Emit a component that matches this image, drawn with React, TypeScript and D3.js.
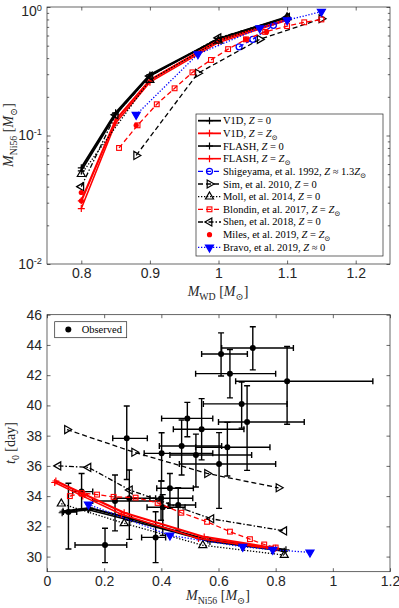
import React, { useEffect, useRef } from "react";
import * as d3 from "d3";

// ---- models: white dwarf mass, Ni56 mass, rise time t0 ----
const v1dZ0Mwd = [0.8, 0.85, 0.9, 1.0, 1.1];
const v1dZ0Ni = [0.056, 0.15, 0.296, 0.563, 0.836];
const v1dZ0T = [33.0, 33.2, 32.5, 31.1, 30.45];

const v1dZsMwd = [0.8, 0.85, 0.9, 1.0, 1.1];
const v1dZsNi = [0.031, 0.132, 0.27, 0.55, 0.8];
const v1dZsT = [35.0, 34.1, 32.9, 31.3, 30.55];

const flashZ0Mwd = [0.8, 0.85, 0.9, 1.0, 1.1];
const flashZ0Ni = [0.053, 0.145, 0.29, 0.57, 0.83];
const flashZ0T = [32.9, 33.1, 32.4, 31.0, 30.35];

const flashZsMwd = [0.8, 0.85, 0.9, 1.0, 1.1];
const flashZsNi = [0.027, 0.125, 0.26, 0.53, 0.79];
const flashZsT = [34.9, 34.0, 32.8, 31.2, 30.5];

const shigeyamaMwd = [1.03, 1.05, 1.08];
const shigeyamaNi = [0.49, 0.56, 0.72];

const simMwd = [0.88, 0.97, 1.06, 1.15];
const simNi = [0.07, 0.305, 0.56, 0.81];
const simT = [38.4, 36.9, 35.5, 34.55];

const mollMwd = [0.8, 0.9, 1.0, 1.1];
const mollNi = [0.05, 0.27, 0.545, 0.83];
const mollT = [33.5, 32.2, 30.75, 30.1];

const blondinMwd = [0.855, 0.882, 0.91, 0.936, 0.962, 0.989, 1.014, 1.04, 1.068, 1.1, 1.125, 1.15];
const blondinNi = [0.08, 0.12, 0.175, 0.233, 0.31, 0.387, 0.47, 0.56, 0.64, 0.71, 0.76, 0.8];
const blondinT = [34.0, 34.2, 34.1, 33.95, 33.9, 33.55, 32.9, 32.3, 31.65, 31.15, 30.8, 30.6];

const shenMwd = [0.8, 0.85, 0.9, 1.0, 1.1];
const shenNi = [0.04, 0.145, 0.29, 0.575, 0.83];
const shenT = [36.0, 35.9, 34.4, 32.5, 31.7];

const milesMwd = [0.8, 0.8, 0.88, 1.04, 1.07];
const milesNi = [0.036, 0.031, 0.12, 0.56, 0.64];

const bravoMwd = [0.88, 0.97, 1.06, 1.1, 1.15];
const bravoNi = [0.145, 0.43, 0.685, 0.79, 0.92];
const bravoT = [33.45, 31.4, 30.65, 30.45, 30.28];

// ---- observed: Ni56 mass (with range) and t0 (with range) ----
const obsNi = [0.72, 0.609, 0.64, 0.84, 0.681, 0.7, 0.541, 0.631, 0.521, 0.602, 0.491, 0.471, 0.401, 0.279, 0.121, 0.075, 0.203, 0.238, 0.288, 0.38, 0.399, 0.43, 0.405, 0.459];
const obsNiLo = [0.611, 0.541, 0.52, 0.66, 0.547, 0.6, 0.442, 0.52, 0.43, 0.463, 0.401, 0.393, 0.34, 0.23, 0.09, 0.057, 0.098, 0.16, 0.24, 0.331, 0.36, 0.384, 0.35, 0.424];
const obsNiHi = [0.862, 0.701, 0.8, 1.14, 0.84, 0.9, 0.689, 0.78, 0.716, 0.8, 0.58, 0.611, 0.58, 0.351, 0.16, 0.104, 0.279, 0.4, 0.38, 0.415, 0.51, 0.512, 0.483, 0.52];
const obsT = [43.8, 43.4, 42.1, 41.6, 40.1, 38.9, 38.42, 37.23, 36.72, 36.12, 39.14, 37.31, 36.83, 37.82, 34.3, 32.95, 30.77, 33.68, 33.86, 31.27, 33.86, 34.52, 33.26, 33.41];
const obsTLo = [42.35, 41.95, 40.5, 38.75, 38.5, 35.7, 36.4, 35.33, 34.6, 33.19, 37.93, 35.4, 35.0, 35.1, 33.1, 30.5, 29.6, 31.7, 31.14, 29.6, 32.4, 33.19, 31.4, 31.76];
const obsTHi = [45.2, 44.8, 43.7, 43.9, 41.55, 41.3, 40.45, 38.88, 38.1, 38.2, 40.2, 39.03, 38.19, 39.96, 35.5, 34.85, 31.87, 35.4, 35.73, 32.97, 35.0, 35.5, 34.1, 34.56];

const topXTicks = [0.8, 0.9, 1, 1.1, 1.2];
const topYTicks = [0.01, 0.1, 1];
const botXTicks = [0, 0.2, 0.4, 0.6, 0.8, 1, 1.2];
const botYTicks = [30, 32, 34, 36, 38, 40, 42, 44, 46];

const BLUE = "#0000ff";
const RED = "#ff0000";
const BLACK = "#000000";
const SERIF = "'Liberation Serif', 'DejaVu Serif', serif";
const SANS = "'Liberation Sans', Arial, sans-serif";

type Series = {
  label: string;
  mwd: number[];
  ni: number[];
  t?: number[];
  color: string;
  dash: string | null;
  width: number;
  marker: string;
  filled?: boolean;
  noLine?: boolean;
};

const series: Series[] = [
  { label: "V1D, *Z* = 0", mwd: v1dZ0Mwd, ni: v1dZ0Ni, t: v1dZ0T, color: BLACK, dash: null, width: 2.2, marker: "+" },
  { label: "V1D, *Z* = *Z*_{⊙}", mwd: v1dZsMwd, ni: v1dZsNi, t: v1dZsT, color: RED, dash: null, width: 2.2, marker: "+" },
  { label: "FLASH, *Z* = 0", mwd: flashZ0Mwd, ni: flashZ0Ni, t: flashZ0T, color: BLACK, dash: null, width: 1.6, marker: "+" },
  { label: "FLASH, *Z* = *Z*_{⊙}", mwd: flashZsMwd, ni: flashZsNi, t: flashZsT, color: RED, dash: null, width: 1.6, marker: "+" },
  { label: "Shigeyama, et al. 1992, *Z* ≈ 1.3*Z*_{⊙}", mwd: shigeyamaMwd, ni: shigeyamaNi, color: BLUE, dash: "5,3", width: 1.3, marker: "o" },
  { label: "Sim, et al. 2010, *Z* = 0", mwd: simMwd, ni: simNi, t: simT, color: BLACK, dash: "5,3", width: 1.3, marker: ">" },
  { label: "Moll, et al. 2014, *Z* = 0", mwd: mollMwd, ni: mollNi, t: mollT, color: BLACK, dash: "1.3,1.7", width: 1.3, marker: "^" },
  { label: "Blondin, et al. 2017, *Z* = *Z*_{⊙}", mwd: blondinMwd, ni: blondinNi, t: blondinT, color: RED, dash: "5,3", width: 1.3, marker: "s" },
  { label: "Shen, et al. 2018, *Z* = 0", mwd: shenMwd, ni: shenNi, t: shenT, color: BLACK, dash: "5,2,1.5,2", width: 1.3, marker: "<" },
  { label: "Miles, et al. 2019, *Z* = *Z*_{⊙}", mwd: milesMwd, ni: milesNi, color: RED, dash: null, width: 1.3, marker: ".", noLine: true },
  { label: "Bravo, et al. 2019, *Z* ≈ 0", mwd: bravoMwd, ni: bravoNi, t: bravoT, color: BLUE, dash: "1.3,1.7", width: 1.3, marker: "v", filled: true },
];

// tiny markup: *x* italic, _{x} subscript, ^{x} superscript
function richText(sel: any, str: string, size: number) {
  const parts = str.split(/(\*[^*]+\*|_\{[^}]*\}|\^\{[^}]*\})/).filter((s) => s);
  let shift = 0;
  parts.forEach((p) => {
    const ts = sel.append("tspan");
    let dy = 0;
    if (p.startsWith("_{")) {
      dy = size * 0.28 - shift;
      shift = size * 0.28;
      ts.attr("font-size", size * 0.7).text(p.slice(2, -1));
    } else if (p.startsWith("^{")) {
      dy = -size * 0.36 - shift;
      shift = -size * 0.36;
      ts.attr("font-size", size * 0.66).text(p.slice(2, -1));
    } else {
      dy = -shift;
      shift = 0;
      if (p.startsWith("*")) ts.attr("font-style", "italic").text(p.slice(1, -1));
      else ts.text(p);
    }
    if (dy) ts.attr("dy", dy);
  });
}

function addMarker(g: any, kind: string, cx: number, cy: number, color: string, filled?: boolean) {
  if (kind === "+") {
    g.append("path")
      .attr("d", `M${cx - 3.5},${cy}H${cx + 3.5}M${cx},${cy - 3.5}V${cy + 3.5}`)
      .attr("stroke", color)
      .attr("stroke-width", 1.2);
  } else if (kind === ".") {
    g.append("circle").attr("cx", cx).attr("cy", cy).attr("r", 2.6).attr("fill", color);
  } else if (kind === "o") {
    g.append("circle").attr("cx", cx).attr("cy", cy).attr("r", 3)
      .attr("fill", "none").attr("stroke", color).attr("stroke-width", 1.3);
  } else if (kind === "s") {
    g.append("rect").attr("x", cx - 2.4).attr("y", cy - 2.4).attr("width", 4.8).attr("height", 4.8)
      .attr("fill", "none").attr("stroke", color).attr("stroke-width", 1.1);
  } else {
    const rot: any = { "^": 0, ">": 90, v: 180, "<": 270 };
    g.append("path")
      .attr("d", d3.symbol().type(d3.symbolTriangle).size(28)())
      .attr("transform", `translate(${cx},${cy}) rotate(${rot[kind]})`)
      .attr("fill", filled ? color : "none")
      .attr("stroke", color)
      .attr("stroke-width", 1.2);
  }
}

function drawFrame(svg: any, x: any, y: any, xTicks: number[], yAxisLeft: any, yAxisRight: any) {
  const [x0, x1] = x.range();
  const [y0, y1] = y.range();
  const g = svg.append("g");

  g.append("g")
    .attr("transform", `translate(0,${y0})`)
    .call(d3.axisBottom(x).tickValues(xTicks).tickSizeInner(-3.5).tickSizeOuter(0).tickPadding(4)
      .tickFormat((d: any) => d3.format("")(d)));
  g.append("g")
    .attr("transform", `translate(0,${y1})`)
    .call(d3.axisTop(x).tickValues(xTicks).tickSizeInner(-3.5).tickSizeOuter(0).tickFormat(() => ""));
  g.append("g").attr("transform", `translate(${x0},0)`).call(yAxisLeft);
  g.append("g").attr("transform", `translate(${x1},0)`).call(yAxisRight);

  // d3 axis sets its own font on each group, override it
  g.selectAll("g").attr("font-family", SANS).attr("font-size", 14);
  g.selectAll(".domain").remove();
  g.selectAll(".tick line").attr("stroke", "#262626").attr("stroke-width", 0.7);
  g.selectAll(".tick text").attr("fill", "#262626");

  g.append("rect")
    .attr("x", x0).attr("y", y1).attr("width", x1 - x0).attr("height", y0 - y1)
    .attr("fill", "none").attr("stroke", "#262626").attr("stroke-width", 0.7);
}

function drawLine(g: any, xs: number[], ys: number[], x: any, y: any, s: Series) {
  const pts = xs.map((v, i) => [x(v), y(ys[i])] as [number, number]);
  if (!s.noLine) {
    g.append("path")
      .attr("d", d3.line()(pts))
      .attr("fill", "none")
      .attr("stroke", s.color)
      .attr("stroke-width", s.width)
      .attr("stroke-dasharray", s.dash);
  }
  pts.forEach((p) => addMarker(g, s.marker, p[0], p[1], s.color, s.filled));
}

export default function App() {
  const ref = useRef<SVGSVGElement>(null);

  useEffect(() => {
    const svg = d3.select(ref.current);
    svg.selectAll("*").remove();

    // ================= top panel =================
    const x = d3.scaleLinear().domain([0.75, 1.25]).range([47, 390]);
    const y = d3.scaleLog().domain([0.01, 1]).range([264, 7]);

    const minor: number[] = [];
    [0.01, 0.1].forEach((dec) => d3.range(2, 10).forEach((k) => minor.push(dec * k)));
    const top = svg.append("g");
    top.append("rect").attr("x", 47).attr("y", 7).attr("width", 343).attr("height", 257).attr("fill", "#fff");

    const linesTop = top.append("g");
    series.forEach((s) => drawLine(linesTop, s.mwd, s.ni, x, y, s));

    const leftAxisTop = (g: any) => {
      g.call(d3.axisLeft(y).tickValues(minor).tickSizeInner(-2.2).tickSizeOuter(0).tickFormat(() => ""));
      const major = g.append("g");
      major.call(d3.axisLeft(y).tickValues(topYTicks).tickSizeInner(-3.5).tickSizeOuter(0).tickPadding(5)
        .tickFormat(() => ""));
      major.selectAll(".tick text").each(function (this: any, d: any) {
        const e = Math.round(Math.log10(d));
        const t = d3.select(this);
        if (e === 0) t.attr("dy", "0.62em");
        richText(t, `10^{${e}}`, 14);
      });
    };
    const rightAxisTop = (g: any) => {
      g.call(d3.axisRight(y).tickValues(minor).tickSizeInner(-2.2).tickSizeOuter(0).tickFormat(() => ""));
      g.append("g").call(d3.axisRight(y).tickValues(topYTicks).tickSizeInner(-3.5).tickSizeOuter(0).tickFormat(() => ""));
    };
    drawFrame(top, x, y, topXTicks, leftAxisTop, rightAxisTop);

    // legend (top)
    const leg = top.append("g").attr("font-family", SERIF).attr("font-size", 10.5);
    leg.append("rect").attr("x", 196).attr("y", 114).attr("width", 187).attr("height", 142)
      .attr("fill", "#fff").attr("stroke", "#262626").attr("stroke-width", 0.7);
    series.forEach((s, i) => {
      const ly = 120.7 + i * 12.66;
      if (!s.noLine) {
        leg.append("line").attr("x1", 198).attr("x2", 221).attr("y1", ly).attr("y2", ly)
          .attr("stroke", s.color).attr("stroke-width", s.width > 2 ? 1.8 : s.width)
          .attr("stroke-dasharray", s.dash);
      }
      addMarker(leg, s.marker, 209.5, ly, s.color, s.filled);
      const t = leg.append("text").attr("x", 223).attr("y", ly + 3.5).attr("fill", "#000");
      richText(t, s.label, 10.5);
    });

    // axis labels (top)
    const lt = top.append("text").attr("x", 218).attr("y", 296).attr("text-anchor", "middle")
      .attr("font-family", SERIF).attr("font-size", 14).attr("fill", "#262626");
    richText(lt, "*M*_{WD} [*M*_{⊙}]", 14);
    const ltY = top.append("text").attr("transform", "translate(13,135) rotate(-90)").attr("text-anchor", "middle")
      .attr("font-family", SERIF).attr("font-size", 14).attr("fill", "#262626");
    richText(ltY, "*M*_{Ni56} [*M*_{⊙}]", 14);

    // ================= bottom panel =================
    const x2 = d3.scaleLinear().domain([0, 1.2]).range([47, 390]);
    const y2 = d3.scaleLinear().domain([29, 46]).range([571.7, 314.7]);
    const bot = svg.append("g");
    bot.append("rect").attr("x", 47).attr("y", 314.7).attr("width", 343).attr("height", 257).attr("fill", "#fff");

    const obs = bot.append("g").attr("stroke", "#000").attr("stroke-width", 1.4);
    obsNi.forEach((v, i) => {
      const cx = x2(v);
      const cy = y2(obsT[i]);
      const xl = x2(obsNiLo[i]);
      const xh = x2(obsNiHi[i]);
      const yl = y2(obsTLo[i]);
      const yh = y2(obsTHi[i]);
      obs.append("path").attr("fill", "none").attr("d",
        `M${xl},${cy}H${xh}M${xl},${cy - 3}V${cy + 3}M${xh},${cy - 3}V${cy + 3}` +
        `M${cx},${yl}V${yh}M${cx - 3},${yl}H${cx + 3}M${cx - 3},${yh}H${cx + 3}`);
      obs.append("circle").attr("cx", cx).attr("cy", cy).attr("r", 3).attr("fill", "#000").attr("stroke", "none");
    });

    const linesBot = bot.append("g");
    series.filter((s) => s.t).forEach((s) => drawLine(linesBot, s.ni, s.t as number[], x2, y2, s));

    const leftAxisBot = (g: any) =>
      g.call(d3.axisLeft(y2).tickValues(botYTicks).tickSizeInner(-3.5).tickSizeOuter(0).tickPadding(5));
    const rightAxisBot = (g: any) =>
      g.call(d3.axisRight(y2).tickValues(botYTicks).tickSizeInner(-3.5).tickSizeOuter(0).tickFormat(() => ""));
    drawFrame(bot, x2, y2, botXTicks, leftAxisBot, rightAxisBot);

    // legend (bottom)
    const leg2 = bot.append("g").attr("font-family", SERIF).attr("font-size", 10.5);
    leg2.append("rect").attr("x", 54.7).attr("y", 321.7).attr("width", 72).attr("height", 16)
      .attr("fill", "#fff").attr("stroke", "#262626").attr("stroke-width", 0.7);
    leg2.append("circle").attr("cx", 68.3).attr("cy", 329.5).attr("r", 3).attr("fill", "#000");
    leg2.append("text").attr("x", 81.7).attr("y", 333.3).text("Observed");

    const lb = bot.append("text").attr("x", 218).attr("y", 600).attr("text-anchor", "middle")
      .attr("font-family", SERIF).attr("font-size", 14).attr("fill", "#262626");
    richText(lb, "*M*_{Ni56} [*M*_{⊙}]", 14);
    const lbY = bot.append("text").attr("transform", "translate(15,443) rotate(-90)").attr("text-anchor", "middle")
      .attr("font-family", SERIF).attr("font-size", 14).attr("fill", "#262626");
    richText(lbY, "*t*_{0} [day]", 14);
  }, []);

  return (
    <svg
      ref={ref}
      width={399}
      height={608}
      style={{ position: "absolute", left: 0, top: 0, background: "#fff" }}
    />
  );
}
